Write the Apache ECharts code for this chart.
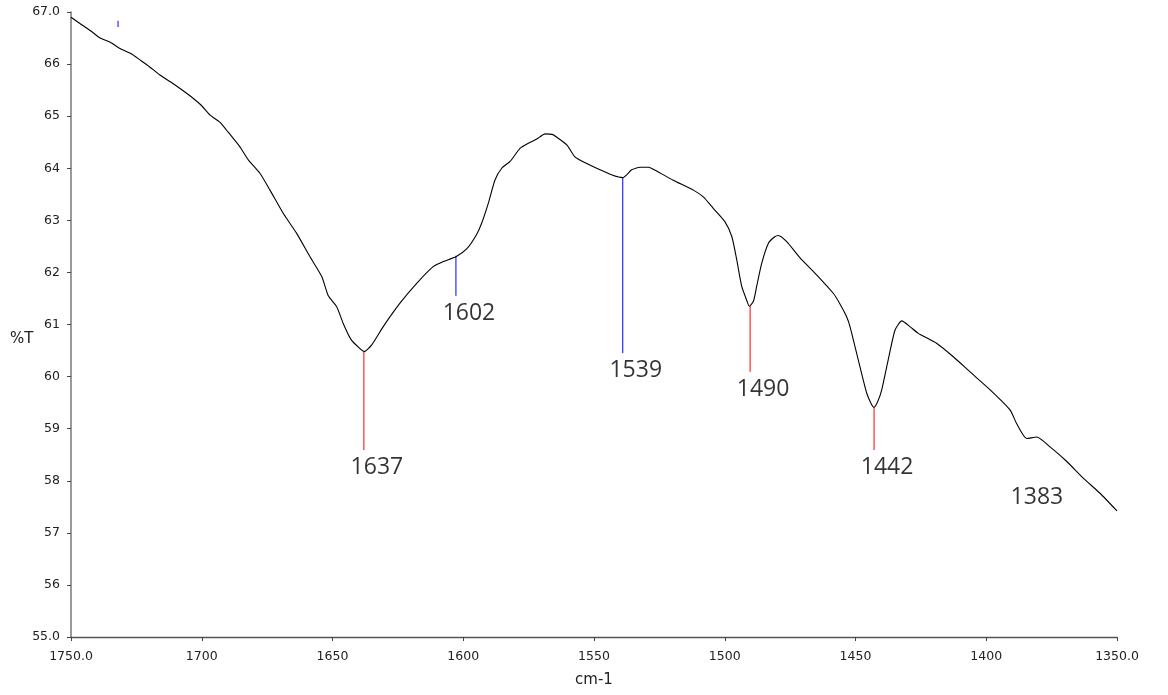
<!DOCTYPE html>
<html>
<head>
<meta charset="utf-8">
<script src="https://cdn.jsdelivr.net/npm/echarts@6/dist/echarts.min.js"></script>
<style>
html,body{margin:0;padding:0;background:#fff;}
#chart{width:1168px;height:695px;}
</style>
</head>
<body>
<div id="chart"></div>
<script>
// Spectrum trace (wavenumber, %T)
const wavenumbers = [1750,1746.6,1742,1738.9,1735,1731.3,1727,1723.6,1720,1716,1712,1708.3,1703.2,1700,1696.8,1693,1690.5,1685.4,1682.2,1677.7,1673.9,1668.8,1663.7,1658.6,1654.1,1651.6,1648.4,1645.9,1643,1640,1637.9,1635,1630.6,1624.2,1617.8,1611.5,1607.6,1602.8,1598.7,1595,1593,1590.4,1587.9,1585.3,1582.1,1578.3,1575.1,1571.9,1568.7,1566,1564.9,1560.4,1557.3,1552.8,1547.7,1542.6,1539,1535.6,1532.4,1529,1527.3,1519.7,1512,1508.2,1504.4,1499.9,1497.3,1495.4,1493.5,1491.5,1490.6,1489,1487.8,1485.9,1483.3,1481,1479.5,1476.3,1471.2,1464.8,1458.5,1456,1453.4,1452.1,1448.3,1445.7,1444,1442.9,1441.5,1440,1437.5,1434.9,1432.3,1429.2,1426,1419,1412.6,1406.2,1398.6,1390.9,1388.4,1384.5,1380.7,1375.6,1369.2,1362.9,1356.5,1350];
const transmittance = [66.90,66.78,66.62,66.50,66.42,66.30,66.20,66.08,65.95,65.79,65.66,65.53,65.34,65.20,65.02,64.88,64.73,64.41,64.16,63.90,63.58,63.13,62.75,62.30,61.92,61.55,61.34,61.02,60.72,60.56,60.48,60.61,60.96,61.41,61.79,62.11,62.21,62.30,62.45,62.72,62.94,63.33,63.77,64.00,64.13,64.38,64.48,64.56,64.66,64.65,64.62,64.45,64.22,64.09,63.97,63.86,63.82,63.97,64.02,64.02,63.98,63.77,63.58,63.45,63.23,62.97,62.69,62.24,61.73,61.45,61.35,61.45,61.73,62.17,62.56,62.68,62.71,62.59,62.28,61.95,61.60,61.40,61.15,60.96,60.19,59.68,59.48,59.41,59.52,59.74,60.32,60.89,61.07,60.96,60.83,60.64,60.38,60.09,59.75,59.36,59.10,58.81,58.84,58.65,58.37,58.05,57.76,57.42];

// Peak markers
const peakLabels = ['1637','1602','1539','1490','1442','1383'];
const peakX      = [1638, 1602.8, 1539, 1490.3, 1442.9, 1385.6];
const peakTop    = [60.48, 62.32, 63.82, 61.35, 59.41, 58.01];
const peakBottom = [58.59, 61.55, 60.45, 60.09, 58.59, 58.01];
const peakColor  = ['red','blue','blue','red','red','none'];

// small stray marker near top-left
const strayX = 1732, strayTop = 66.83, strayBottom = 66.71;

// Axis ticks
const xMin = 1350, xMax = 1750, xStep = 50;
const yMin = 55, yMax = 67, yStep = 1;

const colorMap = {red:'#ff0000', blue:'#0000ff'};

const markerSeries = [];
for (let i = 0; i < peakX.length; i++) {
  if (peakColor[i] === 'none') continue;
  markerSeries.push({
    type:'line', silent:true, showSymbol:false, z:3,
    data:[[peakX[i], peakTop[i]], [peakX[i], peakBottom[i]]],
    lineStyle:{color:colorMap[peakColor[i]], width:1}
  });
}
markerSeries.push({
  type:'line', silent:true, showSymbol:false, z:3,
  data:[[strayX, strayTop], [strayX, strayBottom]],
  lineStyle:{color:'#5555ff', width:1.5}
});

const chart = echarts.init(document.getElementById('chart'), null, {renderer:'canvas'});
const axisFont = 'DejaVu Sans';
chart.setOption({
  animation:false,
  backgroundColor:'#ffffff',
  grid:{left:71, right:51, top:12, bottom:58, containLabel:false},
  xAxis:{
    type:'value', inverse:true, min:xMin, max:xMax, interval:xStep,
    name:'cm-1', nameLocation:'middle', nameGap:36,
    nameTextStyle:{fontFamily:axisFont, fontSize:15, color:'#222'},
    axisLine:{show:true, onZero:false, lineStyle:{color:'#555', width:1.3}},
    axisTick:{show:true, length:4, lineStyle:{color:'#444'}},
    splitLine:{show:false},
    axisLabel:{fontFamily:axisFont, fontSize:12.5, color:'#222', margin:13,
      formatter:v => (v===xMin||v===xMax) ? v.toFixed(1) : String(v)}
  },
  yAxis:{
    type:'value', min:yMin, max:yMax, interval:yStep,
    axisLine:{show:true, onZero:false, lineStyle:{color:'#808080', width:1.6}},
    axisTick:{show:true, length:4, lineStyle:{color:'#444'}},
    splitLine:{show:false},
    axisLabel:{fontFamily:axisFont, fontSize:12.5, color:'#222', margin:11,
      formatter:v => (v===yMin||v===yMax) ? v.toFixed(1) : String(v)}
  },
  graphic:[{type:'text', left:10, top:332, style:{text:'%T', font:'15px "DejaVu Sans"', fill:'#222'}}],
  series:[
    {
      type:'line', data:wavenumbers.map((w,i)=>[w, transmittance[i]]),
      showSymbol:false, smooth:0.2, z:4,
      lineStyle:{color:'#000', width:1.1}
    },
    ...markerSeries,
    {
      type:'scatter', symbolSize:0, silent:true,
      data:peakX.map((x,i)=>({value:[x, peakBottom[i]], name:peakLabels[i]})),
      label:{show:true, position:'bottom', distance:6, offset:[13,0],
        formatter:p=>p.name, fontFamily:'Open Sans', fontSize:23, color:'#000'}
    }
  ]
});
</script>
</body>
</html>
